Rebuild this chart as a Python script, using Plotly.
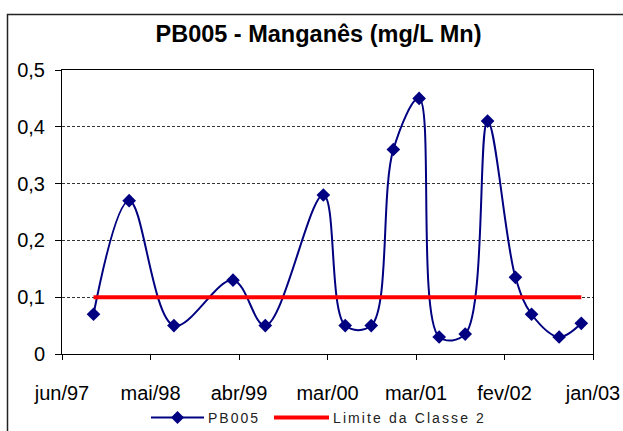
import plotly.graph_objects as go

# ---- data ----
dates = ["1997-10-14", "1998-02-28", "1998-08-19", "1999-04-03", "1999-08-05",
         "2000-03-15", "2000-06-07", "2000-09-15", "2000-12-09", "2001-03-18",
         "2001-06-03", "2001-09-11", "2001-12-06", "2002-03-23", "2002-05-24",
         "2002-09-07", "2002-12-01"]
mn_values = [0.07, 0.27, 0.05, 0.13, 0.05,
             0.28, 0.05, 0.05, 0.36, 0.45,
             0.03, 0.035, 0.41, 0.135, 0.07,
             0.03, 0.054]
limit_dates = ["1997-10-14", "2002-12-01"]
limit_values = [0.1, 0.1]

x_tick_vals = ["1997-06-15", "1998-05-21", "1999-04-26", "2000-03-31",
               "2001-03-06", "2002-02-09", "2003-01-15"]
x_tick_text = ["jun/97", "mai/98", "abr/99", "mar/00", "mar/01", "fev/02", "jan/03"]
y_tick_vals = [0, 0.1, 0.2, 0.3, 0.4, 0.5]
y_tick_text = ["0", "0,1", "0,2", "0,3", "0,4", "0,5"]

title_text = "PB005 - Manganês (mg/L Mn)"
series_name = "PB005"
limit_name = "Limite da Classe 2"

NAVY = "#000080"
RED = "#FF0000"
FONT = "Arial, 'Liberation Sans', sans-serif"

fig = go.Figure()
fig.add_trace(go.Scatter(
    x=dates, y=mn_values, mode="lines+markers", name=series_name,
    line=dict(color=NAVY, width=2, shape="spline", smoothing=1.0),
    marker=dict(symbol="diamond", size=10.5, color=NAVY, line=dict(width=0)),
    showlegend=False,
))
fig.add_trace(go.Scatter(
    x=limit_dates, y=limit_values, mode="lines", name=limit_name,
    line=dict(color=RED, width=4),
    showlegend=False,
))

# pixel -> paper helpers (plot area: x 62..593, y 70..354)
PW, PH = 531.0, 284.0
def px_x(px):
    return (px - 62) / PW
def px_y(py):
    return (354 - py) / PH

# outer chart border (extends past right/bottom edges like the reference)
fig.add_shape(type="rect", xref="paper", yref="paper",
              x0=px_x(7.5), x1=px_x(640), y0=px_y(450), y1=px_y(14.5),
              line=dict(color="#222222", width=1.5), fillcolor="rgba(0,0,0,0)",
              layer="below")

# ---- legend (drawn like the Excel legend) ----
LEG_Y = px_y(417.5)
fig.add_shape(type="line", xref="paper", yref="paper",
              x0=px_x(151), x1=px_x(204), y0=LEG_Y, y1=LEG_Y,
              line=dict(color=NAVY, width=2))
fig.add_shape(type="path", xref="paper", yref="paper",
              xsizemode="pixel", ysizemode="pixel",
              xanchor=px_x(177.5), yanchor=LEG_Y,
              path="M -6.5 0 L 0 6.5 L 6.5 0 L 0 -6.5 Z",
              fillcolor=NAVY, line=dict(color=NAVY, width=0))
fig.add_annotation(xref="paper", yref="paper", x=px_x(206), y=LEG_Y,
                   xanchor="left", yanchor="middle", showarrow=False,
                   text='<span style="letter-spacing:2px">' + series_name + '</span>',
                   font=dict(size=14, family=FONT, color="#222222"))
fig.add_shape(type="line", xref="paper", yref="paper",
              x0=px_x(274), x1=px_x(329), y0=LEG_Y, y1=LEG_Y,
              line=dict(color=RED, width=4))
fig.add_annotation(xref="paper", yref="paper", x=px_x(331), y=LEG_Y,
                   xanchor="left", yanchor="middle", showarrow=False,
                   text='<span style="letter-spacing:2.1px">' + limit_name + '</span>',
                   font=dict(size=14, family=FONT, color="#222222"))

fig.update_layout(
    width=623, height=431,
    margin=dict(l=62, r=30, t=70, b=77, autoexpand=False),
    paper_bgcolor="white", plot_bgcolor="white",
    font=dict(family=FONT, color="black"),
    title=dict(text="<b>" + title_text + "</b>", x=px_x(318.5), xref="paper",
               xanchor="center", y=1 - 34 / 431, yanchor="middle",
               font=dict(size=23.5, family=FONT, color="black")),
    showlegend=False,
)

fig.update_xaxes(
    type="date", range=[x_tick_vals[0], x_tick_vals[-1]],
    tickmode="array", tickvals=x_tick_vals, ticktext=x_tick_text,
    showgrid=False, showline=True, linecolor="black", linewidth=1, mirror=True,
    ticks="outside", ticklen=5, tickcolor="black", tickwidth=1,
    tickfont=dict(size=20, family=FONT, color="black"),
    ticklabelstandoff=16, zeroline=False, automargin=False,
)
fig.update_yaxes(
    range=[0, 0.5], tickmode="array", tickvals=y_tick_vals, ticktext=y_tick_text,
    showgrid=True, gridcolor="#333333", griddash="3px,2px", gridwidth=1,
    showline=True, linecolor="black", linewidth=1, mirror=True,
    ticks="outside", ticklen=6, tickcolor="black", tickwidth=1,
    tickfont=dict(size=20, family=FONT, color="black"),
    ticklabelstandoff=6, zeroline=False, automargin=False,
)

fig.write_html("out.html",
               config={"displayModeBar": False},
               post_script="document.body.style.margin='0px';"
                           "document.body.style.overflow='hidden';")
